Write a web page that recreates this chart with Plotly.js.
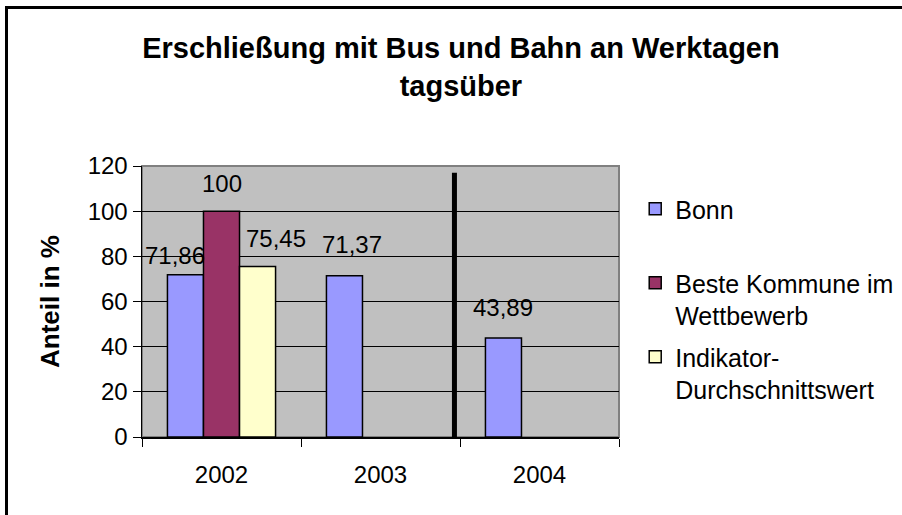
<!DOCTYPE html>
<html>
<head>
<meta charset="utf-8">
<script src="https://cdn.plot.ly/plotly-3.0.1.min.js"></script>
<style>
  html, body { margin: 0; padding: 0; background: #fff; overflow: hidden; }
  #wrap { position: relative; width: 902px; height: 515px; }
  #chart { position: absolute; left: 0; top: 0; width: 902px; height: 515px; }
  #frame { position: absolute; left: 5px; top: 6px; width: 1000px; height: 1000px;
           border-left: 3px solid #000; border-top: 3px solid #000; pointer-events: none; }
</style>
</head>
<body>
<div id="wrap">
  <div id="chart"></div>
  <div id="frame"></div>
</div>
<script>
// ---- data ----
var years = ['2002', '2003', '2004'];
var bonn = [71.86, 71.37, 43.89];
var beste = [100, null, null];
var indikator = [75.45, null, null];
var seriesNames = ['Bonn', 'Beste Kommune im<br>Wettbewerb', 'Indikator-<br>Durchschnittswert'];
var yTicks = [0, 20, 40, 60, 80, 100, 120];
var titleText = 'Erschließung mit Bus und Bahn an Werktagen<br>tagsüber';
var yTitle = 'Anteil in %';

// ---- style ----
var colors = ['#9999ff', '#993366', '#ffffcc'];
var FONT = 'Liberation Sans, Arial, sans-serif';
var FS = 24;
var BARGAP = 0.32;
var dividerX = 1.465;   // vertical separator between 2003 and 2004
var dividerTop = 117;
// label pixel shifts [series][category] : [dx, dy]
var labelShift = [
  [[-10, 19], [8, 31], [0, 30]],
  [[0, 28], null, null],
  [[18, 28], null, null]
];

var seriesVals = [bonn, beste, indikator];
var traces = seriesVals.map(function (vals, i) {
  var nm = seriesNames[i];
  if (nm.indexOf('<br>') < 0) nm += '<br>&nbsp;';   // keep legend rows evenly spaced
  return {
    type: 'bar', x: years, y: vals, name: nm, legendgroup: 'g' + i,
    marker: { color: colors[i], line: { color: '#000', width: 1.5 } },
    hoverinfo: 'skip'
  };
});

var slot = (1 - BARGAP) / 3;
var annotations = [];
seriesVals.forEach(function (vals, s) {
  vals.forEach(function (v, c) {
    if (v === null) return;
    var sh = labelShift[s][c] || [0, 20];
    annotations.push({
      x: c + (s - 1) * slot, y: v, xref: 'x', yref: 'y',
      text: String(v).replace('.', ','), showarrow: false,
      xanchor: 'center', yanchor: 'middle',
      xshift: sh[0], yshift: sh[1],
      font: { family: FONT, size: FS, color: '#000' }
    });
  });
});

var layout = {
  width: 902, height: 515,
  margin: { l: 142, r: 283, t: 166, b: 78, pad: 0, autoexpand: false },
  paper_bgcolor: '#ffffff', plot_bgcolor: '#c0c0c0',
  font: { family: FONT, size: FS, color: '#000' },
  title: {
    text: titleText, x: 0.511, xref: 'container', xanchor: 'center',
    y: 0.887, yref: 'container', yanchor: 'middle',
    font: { family: FONT, size: 29, color: '#000', weight: 'bold' }
  },
  barmode: 'group', bargap: BARGAP, bargroupgap: 0,
  xaxis: {
    type: 'category', range: [-0.5, 2.5], tickson: 'boundaries',
    ticks: 'outside', ticklen: 8, tickcolor: '#000', tickwidth: 1,
    showline: true, linecolor: '#000', linewidth: 1.5,
    showgrid: false, zeroline: false, ticklabelstandoff: 16,
    tickfont: { family: FONT, size: FS, color: '#000' }
  },
  yaxis: {
    range: [0, 120], tickvals: yTicks, ticktext: yTicks.map(String),
    ticks: 'outside', ticklen: 8, tickcolor: '#000', tickwidth: 1,
    showline: true, linecolor: '#000', linewidth: 1.5,
    showgrid: true, gridcolor: '#000', gridwidth: 1, zeroline: false,
    tickfont: { family: FONT, size: FS, color: '#000' },
    title: { text: yTitle, standoff: 20, font: { family: FONT, size: 26, color: '#000', weight: 'bold' } }
  },
  legend: {
    x: 1.034, xanchor: 'left', y: 0.926, yanchor: 'top',
    font: { family: FONT, size: 25, color: '#000' },
    bgcolor: 'rgba(0,0,0,0)', tracegroupgap: 6, traceorder: 'grouped',
    valign: 'top', itemwidth: 30
  },
  shapes: [
    { type: 'rect', xref: 'paper', yref: 'paper', x0: 0, x1: 1, y0: 0, y1: 1,
      line: { color: '#808080', width: 2 }, layer: 'below' },
    { type: 'line', xref: 'x', yref: 'y', x0: dividerX, x1: dividerX, y0: 0, y1: dividerTop,
      line: { color: '#000', width: 5 } }
  ],
  annotations: annotations,
  showlegend: true
};

Plotly.newPlot('chart', traces, layout, { staticPlot: true, displayModeBar: false });
</script>
</body>
</html>
